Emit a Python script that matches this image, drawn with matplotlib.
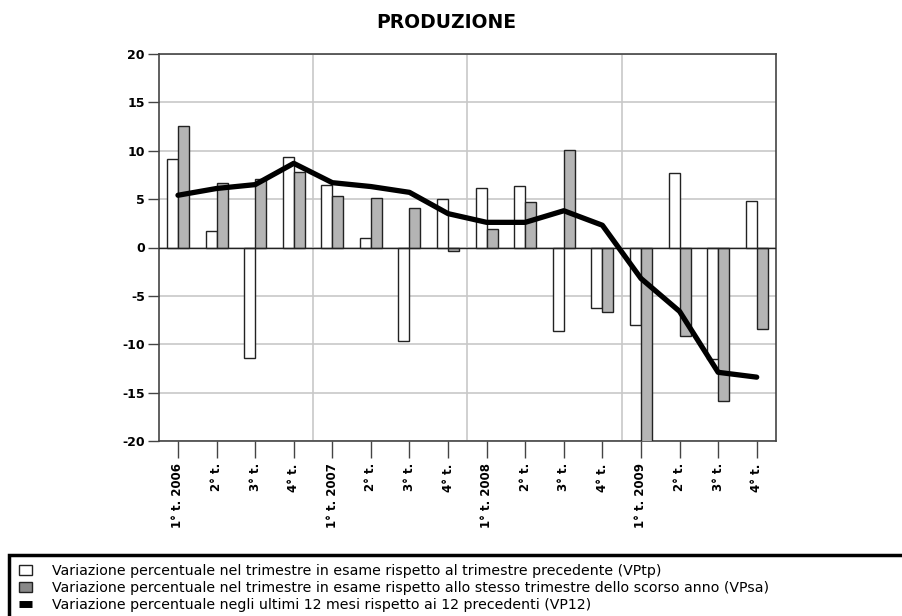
import numpy as np
import matplotlib
matplotlib.use('Agg')
import matplotlib.pyplot as plt
from matplotlib.patches import Patch, Rectangle
from matplotlib.lines import Line2D

plt.rcParams['font.family'] = 'DejaVu Sans'
plt.rcParams['axes.unicode_minus'] = False

# dati
trimestri = ['1° t. 2006', '2° t.', '3° t.', '4° t.',
             '1° t. 2007', '2° t.', '3° t.', '4° t.',
             '1° t. 2008', '2° t.', '3° t.', '4° t.',
             '1° t. 2009', '2° t.', '3° t.', '4° t.']
vptp = [9.1, 1.7, -11.4, 9.4, 6.5, 1.0, -9.7, 5.0,
        6.1, 6.4, -8.6, -6.3, -8.0, 7.7, -11.5, 4.8]
vpsa = [12.6, 6.7, 7.1, 7.8, 5.3, 5.1, 4.1, -0.4,
        1.9, 4.7, 10.1, -6.7, -20.5, -9.1, -15.9, -8.4]
vp12 = [5.4, 6.1, 6.5, 8.7, 6.7, 6.3, 5.7, 3.5,
        2.6, 2.6, 3.8, 2.3, -3.2, -6.6, -12.9, -13.4]

legenda = ['Variazione percentuale nel trimestre in esame rispetto al trimestre precedente (VPtp)',
           'Variazione percentuale nel trimestre in esame rispetto allo stesso trimestre dello scorso anno (VPsa)',
           'Variazione percentuale negli ultimi 12 mesi rispetto ai 12 precedenti (VP12)']

W, H = 902, 616
fig = plt.figure(figsize=(W / 100, H / 100), dpi=100)
ax = fig.add_axes([158.7 / W, 1 - 441 / H, (776 - 158.7) / W, (441 - 54) / H])

x = np.arange(len(trimestri))
bw = 0.285
grigio = '#b4b4b4'

ax.bar(x, vptp, width=-bw, align='edge', color='white', edgecolor='#222222', linewidth=1, zorder=3)
ax.bar(x, vpsa, width=bw, align='edge', color=grigio, edgecolor='#222222', linewidth=1, zorder=3)
ax.plot(x, vp12, color='black', linewidth=3.8, solid_joinstyle='round', solid_capstyle='round', zorder=5)

ax.set_xlim(-0.5, len(trimestri) - 0.5)
ax.set_ylim(-20, 20)
ax.set_yticks(np.arange(-20, 21, 5))
ax.set_xticks(x)
ax.set_xticklabels(trimestri, rotation=90, fontsize=8.5, fontweight='bold', va='top', ha='center')
for lab in ax.get_yticklabels():
    lab.set_fontweight('bold')
    lab.set_fontsize(9)

# griglia
ax.yaxis.grid(True, color='#c8c8c8', linewidth=1.2, zorder=0)
for xv in [3.5, 7.5, 11.5]:
    ax.axvline(xv, color='#c8c8c8', linewidth=1.2, zorder=0)
ax.axhline(0, color='#222222', linewidth=1, zorder=4)

for s in ax.spines.values():
    s.set_color('#444444')
    s.set_linewidth(1.2)
ax.tick_params(axis='y', direction='out', length=8, width=1, color='#444444', pad=2)
ax.tick_params(axis='x', direction='out', length=12, width=1, color='#444444', pad=4)

fig.text(446 / W, 1 - 22 / H, 'PRODUZIONE', ha='center', va='center', fontsize=13.5, fontweight='bold')

# legenda
handles = [Patch(facecolor='white', edgecolor='#222222', linewidth=1),
           Patch(facecolor='#888888', edgecolor='#222222', linewidth=1),
           Line2D([0], [0], color='black', linewidth=5, solid_capstyle='butt')]
fig.legend(handles, legenda, loc='upper left', bbox_to_anchor=(19 / W, 1 - 564 / H),
           frameon=False, fontsize=10.2, handlelength=0.95, handleheight=0.75,
           handletextpad=1.4, labelspacing=0.2, borderpad=0, borderaxespad=0)
fig.patches.append(Rectangle((9 / W, -0.05), 1.0, (H - 555) / H + 0.05, transform=fig.transFigure,
                             fill=False, edgecolor='black', linewidth=2.5))

fig.savefig('out.png', dpi=100)
